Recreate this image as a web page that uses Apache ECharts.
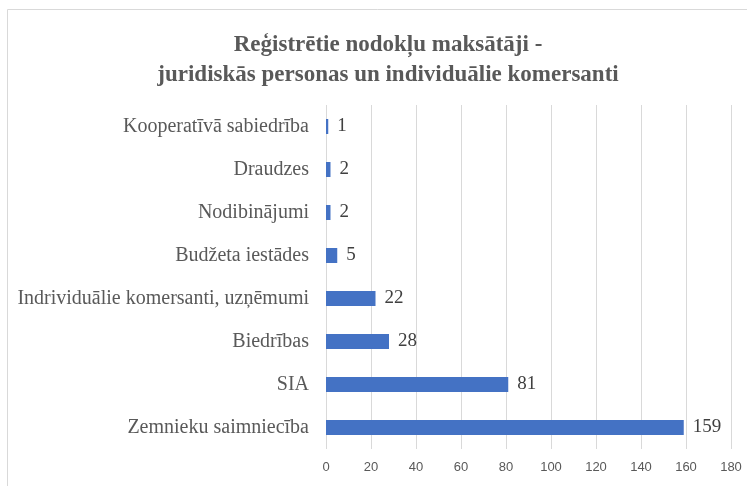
<!DOCTYPE html>
<html>
<head>
<meta charset="utf-8">
<script src="https://cdn.jsdelivr.net/npm/echarts@6/dist/echarts.min.js"></script>
<style>
    html, body { margin: 0; padding: 0; background: #fff; }
    #chart { width: 747px; height: 486px; }
</style>
</head>
<body>
<div id="chart"></div>
<script>
// kategorijas (no apakšas uz augšu)
const categories = [
    'Zemnieku saimniecība',
    'SIA',
    'Biedrības',
    'Indrividuālie komersanti, uzņēmumi',
    'Budžeta iestādes',
    'Nodibinājumi',
    'Draudzes',
    'Kooperatīvā sabiedrība'
]
// nodokļu maksātāju skaits
const counts = [159, 81, 28, 22, 5, 2, 2, 1]
// x ass robežas
const xMin = 0
const xMax = 180
const xStep = 20

const mychart = echarts.init(document.getElementById('chart'))
mychart.setOption({
    animation: false,
    graphic: [{
        type: 'rect',
        shape: { x: 7.5, y: 9.5, width: 760, height: 500 },
        style: { fill: 'none', stroke: '#d9d9d9', lineWidth: 1 },
        silent: true
    }],
    title: {
        text: 'Reģistrētie nodokļu maksātāji -\njuridiskās personas un individuālie komersanti',
        left: 383,
        top: 25,
        textAlign: 'center',
        textStyle: {
            fontFamily: 'Liberation Serif',
            fontWeight: 'bold',
            fontSize: 23,
            lineHeight: 30,
            color: '#595959'
        }
    },
    grid: {
        left: 326,
        right: 16,
        top: 105,
        bottom: 37
    },
    xAxis: {
        type: 'value',
        min: xMin,
        max: xMax,
        interval: xStep,
        axisLine: { show: false },
        axisTick: { show: false },
        splitLine: { lineStyle: { color: '#d9d9d9', width: 1 } },
        axisLabel: {
            margin: 12,
            fontFamily: 'Liberation Sans',
            fontSize: 13,
            color: '#595959'
        }
    },
    yAxis: {
        type: 'category',
        data: categories,
        axisLine: { show: false },
        axisTick: { show: false },
        axisLabel: {
            margin: 17,
            fontFamily: 'Liberation Serif',
            fontSize: 20,
            color: '#595959'
        }
    },
    series: [{
        type: 'bar',
        data: counts,
        barWidth: '35%',
        itemStyle: { color: '#4472c4' },
        label: {
            show: true,
            position: 'right',
            distance: 9,
            fontFamily: 'Liberation Serif',
            fontSize: 19,
            color: '#404040'
        }
    }]
})
</script>
</body>
</html>
